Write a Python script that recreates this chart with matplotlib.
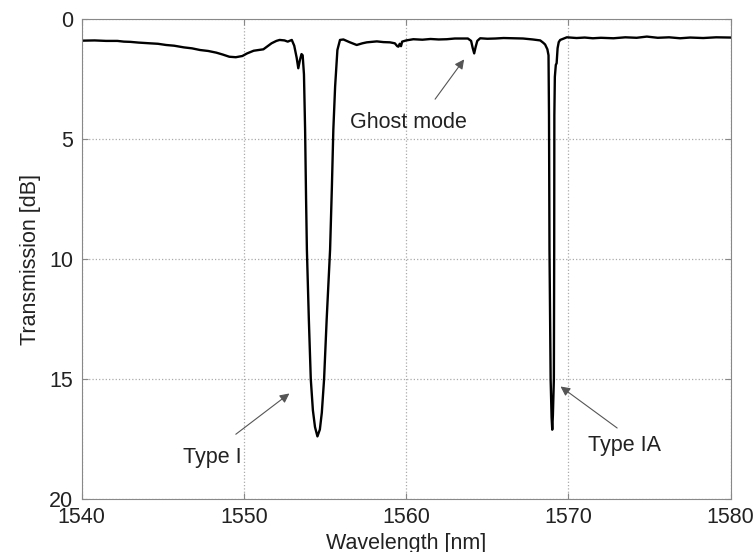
import matplotlib
matplotlib.use("Agg")
import matplotlib.pyplot as plt

# ---------------------------------------------------------------- datos
# espectro de transmision (longitud de onda [nm], perdida [dB])
wl = [1540.0, 1540.8, 1541.5, 1542.2, 1542.6, 1543.0, 1543.5, 1544.2, 1544.7, 1545.2,
      1545.7, 1546.3, 1546.8, 1547.3, 1547.8, 1548.3, 1548.7, 1549.1, 1549.5, 1549.9,
      1550.2, 1550.6, 1550.9, 1551.2, 1551.5, 1551.7, 1552.0, 1552.2, 1552.5, 1552.7,
      1552.95, 1553.1, 1553.25, 1553.35, 1553.45, 1553.55, 1553.62, 1553.7, 1553.77, 1553.83,
      1553.88, 1554.0, 1554.12, 1554.25, 1554.38, 1554.53, 1554.68, 1554.8, 1554.94, 1555.1,
      1555.31, 1555.42, 1555.51, 1555.62, 1555.76, 1555.92, 1556.13, 1556.5, 1556.95, 1557.3,
      1557.57, 1558.19, 1558.6, 1559.0, 1559.3, 1559.45, 1559.52, 1559.6, 1559.68, 1559.75,
      1560.0, 1560.44, 1561.0, 1561.5, 1562.0, 1562.5, 1563.0, 1563.5, 1563.8, 1564.0,
      1564.1, 1564.19, 1564.28, 1564.38, 1564.56, 1565.0, 1565.5, 1566.0, 1566.6, 1567.2,
      1567.8, 1568.26, 1568.45, 1568.56, 1568.7, 1568.77, 1568.8, 1568.83, 1568.9, 1568.96,
      1569.0, 1569.04, 1569.1, 1569.12, 1569.13, 1569.16, 1569.22, 1569.27, 1569.33, 1569.4,
      1569.49, 1569.9, 1570.5, 1571.0, 1571.5, 1572.0, 1572.77, 1573.5, 1574.2, 1574.83,
      1575.5, 1576.2, 1576.88, 1577.5, 1578.3, 1579.1, 1580.0]
tr = [0.89, 0.88, 0.90, 0.90, 0.93, 0.94, 0.97, 1.00, 1.02, 1.07,
      1.10, 1.17, 1.21, 1.28, 1.32, 1.39, 1.47, 1.56, 1.58, 1.53,
      1.42, 1.31, 1.28, 1.25, 1.10, 1.00, 0.90, 0.86, 0.88, 0.93,
      0.86, 1.10, 1.60, 2.04, 1.70, 1.45, 1.50, 2.30, 4.60, 7.50,
      9.60, 12.5, 15.0, 16.3, 17.0, 17.39, 17.1, 16.4, 15.0, 12.5,
      9.60, 7.00, 4.60, 2.80, 1.28, 0.86, 0.84, 0.95, 1.07, 1.00,
      0.96, 0.92, 0.95, 0.96, 1.00, 1.12, 1.14, 1.02, 1.12, 0.93,
      0.88, 0.83, 0.85, 0.82, 0.84, 0.83, 0.80, 0.80, 0.80, 0.90,
      1.20, 1.42, 1.15, 0.90, 0.79, 0.81, 0.80, 0.78, 0.79, 0.80,
      0.84, 0.88, 0.98, 1.05, 1.25, 1.50, 4.00, 9.60, 15.0, 16.6,
      17.11, 16.5, 15.0, 9.60, 4.00, 2.40, 1.90, 1.83, 1.20, 0.95,
      0.86, 0.75, 0.78, 0.76, 0.79, 0.77, 0.79, 0.75, 0.77, 0.72,
      0.77, 0.75, 0.79, 0.76, 0.78, 0.75, 0.76]

# etiquetas: texto, posicion del texto, cola y punta de la flecha
labels = ["Type I", "Type IA", "Ghost mode"]
text_pos = [(1546.25, 18.5), (1571.23, 17.99), (1556.54, 4.52)]
arrow_tail = [(1549.5, 17.3), (1573.0, 17.04), (1561.78, 3.33)]
arrow_head = [(1552.8, 15.6), (1569.51, 15.31), (1563.57, 1.67)]

xticks = [1540, 1550, 1560, 1570, 1580]
yticks = [0, 5, 10, 15, 20]

# ---------------------------------------------------------------- grafica
plt.rcParams['font.family'] = ['Liberation Sans', 'DejaVu Sans']
plt.rcParams['font.size'] = 15.5
txt = '#222222'

fig = plt.figure(figsize=(7.56, 5.52), dpi=100)
ax = fig.add_axes([0.108, 0.096, 0.8586, 0.869])

ax.plot(wl, tr, color='black', lw=1.7)

for s, p, t, h in zip(labels, text_pos, arrow_tail, arrow_head):
    ax.text(p[0], p[1], s, ha='left', va='baseline', color=txt)
    ax.annotate('', xy=h, xytext=t,
                arrowprops=dict(arrowstyle='-|>', color='#555555', lw=0.8,
                                mutation_scale=14, shrinkA=0, shrinkB=0))

ax.set_xlim(1540, 1580)
ax.set_ylim(20, 0)
ax.set_xticks(xticks)
ax.set_yticks(yticks)
ax.grid(True, linestyle=':', color='#aaaaaa', lw=0.9)
ax.tick_params(direction='in', length=4, top=True, right=True, colors='#888888',
               labelcolor=txt, pad=6)
for sp in ax.spines.values():
    sp.set_color('#888888')
    sp.set_linewidth(0.8)

ax.set_xlabel("Wavelength [nm]", color=txt, labelpad=3)
ax.set_ylabel("Transmission [dB]", color=txt, labelpad=6)

fig.savefig("out.png", dpi=100)
